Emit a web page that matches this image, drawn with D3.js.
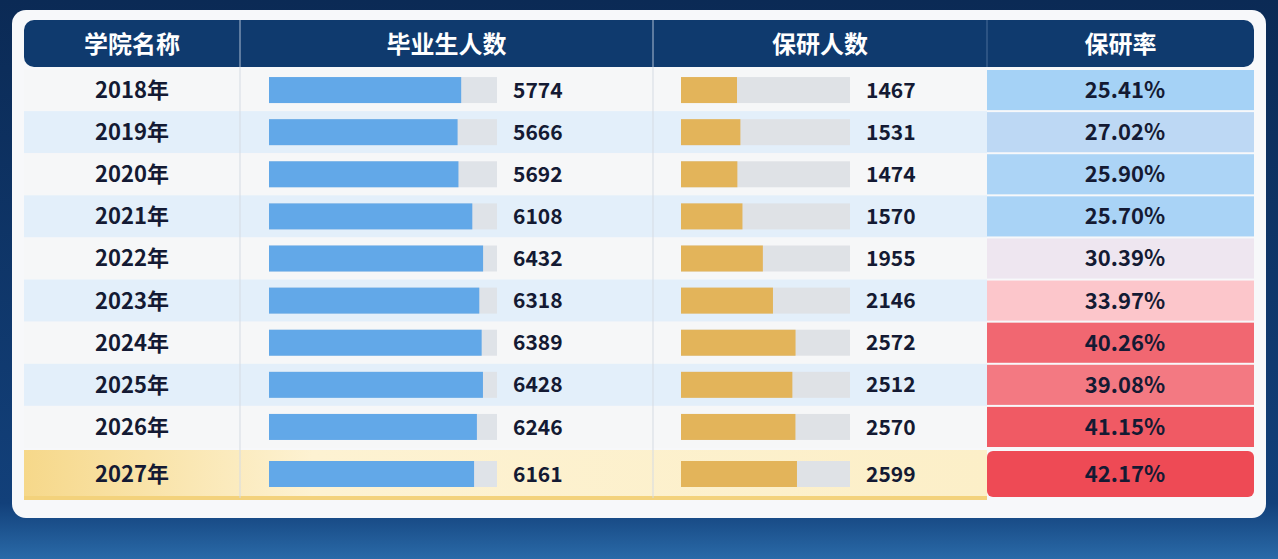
<!DOCTYPE html>
<html><head><meta charset="utf-8">
<script src="https://cdn.jsdelivr.net/npm/d3@7"></script>
<style>body{margin:0;background:#0d2d5a;overflow:hidden}svg{display:block}</style>
</head><body>
<script>
// data
var years = ["2018年","2019年","2020年","2021年","2022年","2023年","2024年","2025年","2026年","2027年"];
var graduates = [5774,5666,5692,6108,6432,6318,6389,6428,6246,6161];
var postgrad = [1467,1531,1474,1570,1955,2146,2572,2512,2570,2599];
var rates = [25.41,27.02,25.90,25.70,30.39,33.97,40.26,39.08,41.15,42.17];
var headers = ["学院名称","毕业生人数","保研人数","保研率"];

var W = 1278, H = 559;
var font = "'Noto Sans CJK SC','Noto Sans',sans-serif";
var svg = d3.select("body").append("svg").attr("width", W).attr("height", H);
var defs = svg.append("defs");

var bg = defs.append("linearGradient").attr("id","bg").attr("x1",0).attr("y1",0).attr("x2",0).attr("y2",1);
bg.append("stop").attr("offset",0).attr("stop-color","#0b2a55");
bg.append("stop").attr("offset",0.9).attr("stop-color","#12407a");
bg.append("stop").attr("offset",1).attr("stop-color","#2a6aa8");
svg.append("rect").attr("width",W).attr("height",H).attr("fill","url(#bg)");

var gold = defs.append("linearGradient").attr("id","gold");
gold.append("stop").attr("offset",0).attr("stop-color","#f6d88a");
gold.append("stop").attr("offset",0.3).attr("stop-color","#fdf2d2");
gold.append("stop").attr("offset",1).attr("stop-color","#fcefc8");

// panel
svg.append("rect").attr("x",12).attr("y",10).attr("width",1254).attr("height",508).attr("rx",14).attr("fill","#f7f8fa");

var cols = [24,240,653,987,1254];
var y = d3.scaleBand().domain(years.slice(0,9)).range([69,448]).padding(0);
function rowY(i){ return i < 9 ? y(years[i]) : 450; }
function rowH(i){ return i < 9 ? y.bandwidth() : 48; }

// header
svg.append("rect").attr("x",24).attr("y",20).attr("width",1230).attr("height",47).attr("rx",10).attr("fill","#0f3a6e");
headers.forEach(function(h,j){
  svg.append("text").attr("x",(cols[j]+cols[j+1])/2).attr("y",44).attr("dy","0.36em")
    .attr("text-anchor","middle").attr("fill","#fff").attr("font-family",font)
    .attr("font-weight",700).attr("font-size",24).text(h);
});

// row backgrounds
years.forEach(function(d,i){
  svg.append("rect").attr("x",24).attr("y",rowY(i)).attr("width",963).attr("height",rowH(i))
    .attr("fill", i==9 ? "url(#gold)" : (i%2 ? "#e3effa" : "#f6f7f8"));
});
svg.append("rect").attr("x",24).attr("y",496).attr("width",963).attr("height",4).attr("fill","#f3d27c");

var rateColor = d3.scaleLinear().domain([25,30.4,34,42.2]).range(["#9fd0f7","#eee6f0","#fcc6cb","#ee4a55"]);
years.forEach(function(d,i){
  svg.append("rect").attr("x",987).attr("y",rowY(i)+1).attr("width",267).attr("height",rowH(i)-2)
    .attr("rx", i==9?6:0).attr("fill",rateColor(rates[i]));
});

// column separators
[240,653].forEach(function(x){
  svg.append("line").attr("x1",x).attr("x2",x).attr("y1",20).attr("y2",498).attr("stroke","#d5dbe3");
});
svg.append("line").attr("x1",240).attr("x2",240).attr("y1",20).attr("y2",67).attr("stroke","#4a6d98");
svg.append("line").attr("x1",653).attr("x2",653).attr("y1",20).attr("y2",67).attr("stroke","#4a6d98");
svg.append("line").attr("x1",987).attr("x2",987).attr("y1",20).attr("y2",67).attr("stroke","#4a6d98");

var xg = d3.scaleLinear().domain([0,6850]).range([269,497]);
var xp = d3.scaleLinear().domain([410,3600]).range([681,850]);

var row = svg.selectAll("g.row").data(years).enter().append("g")
  .attr("transform",function(d,i){ return "translate(0,"+(rowY(i)+rowH(i)/2)+")"; });

function label(sel,x,txt,anchor,size){
  sel.append("text").attr("x",x).attr("dy","0.36em").attr("text-anchor",anchor||"start")
    .attr("font-family",font).attr("font-weight",700).attr("font-size",size||21)
    .attr("fill","#141a33").text(txt);
}
row.each(function(d,i){
  var g = d3.select(this);
  label(g,132,d,"middle",22);
  g.append("rect").attr("x",xg.range()[0]).attr("y",-13).attr("width",xg.range()[1]-xg.range()[0]).attr("height",26).attr("fill","#dfe3e8");
  g.append("rect").attr("x",xg(0)).attr("y",-13).attr("width",xg(graduates[i])-xg(0)).attr("height",26).attr("fill","#62a8e8");
  label(g,513,graduates[i]);
  g.append("rect").attr("x",xp.range()[0]).attr("y",-13).attr("width",xp.range()[1]-xp.range()[0]).attr("height",26).attr("fill","#dfe2e6");
  g.append("rect").attr("x",xp(410)).attr("y",-13).attr("width",xp(postgrad[i])-xp(410)).attr("height",26).attr("fill","#e3b45a");
  label(g,866,postgrad[i]);
  label(g,1125,rates[i].toFixed(2)+"%","middle",22);
});
</script>
</body></html>
